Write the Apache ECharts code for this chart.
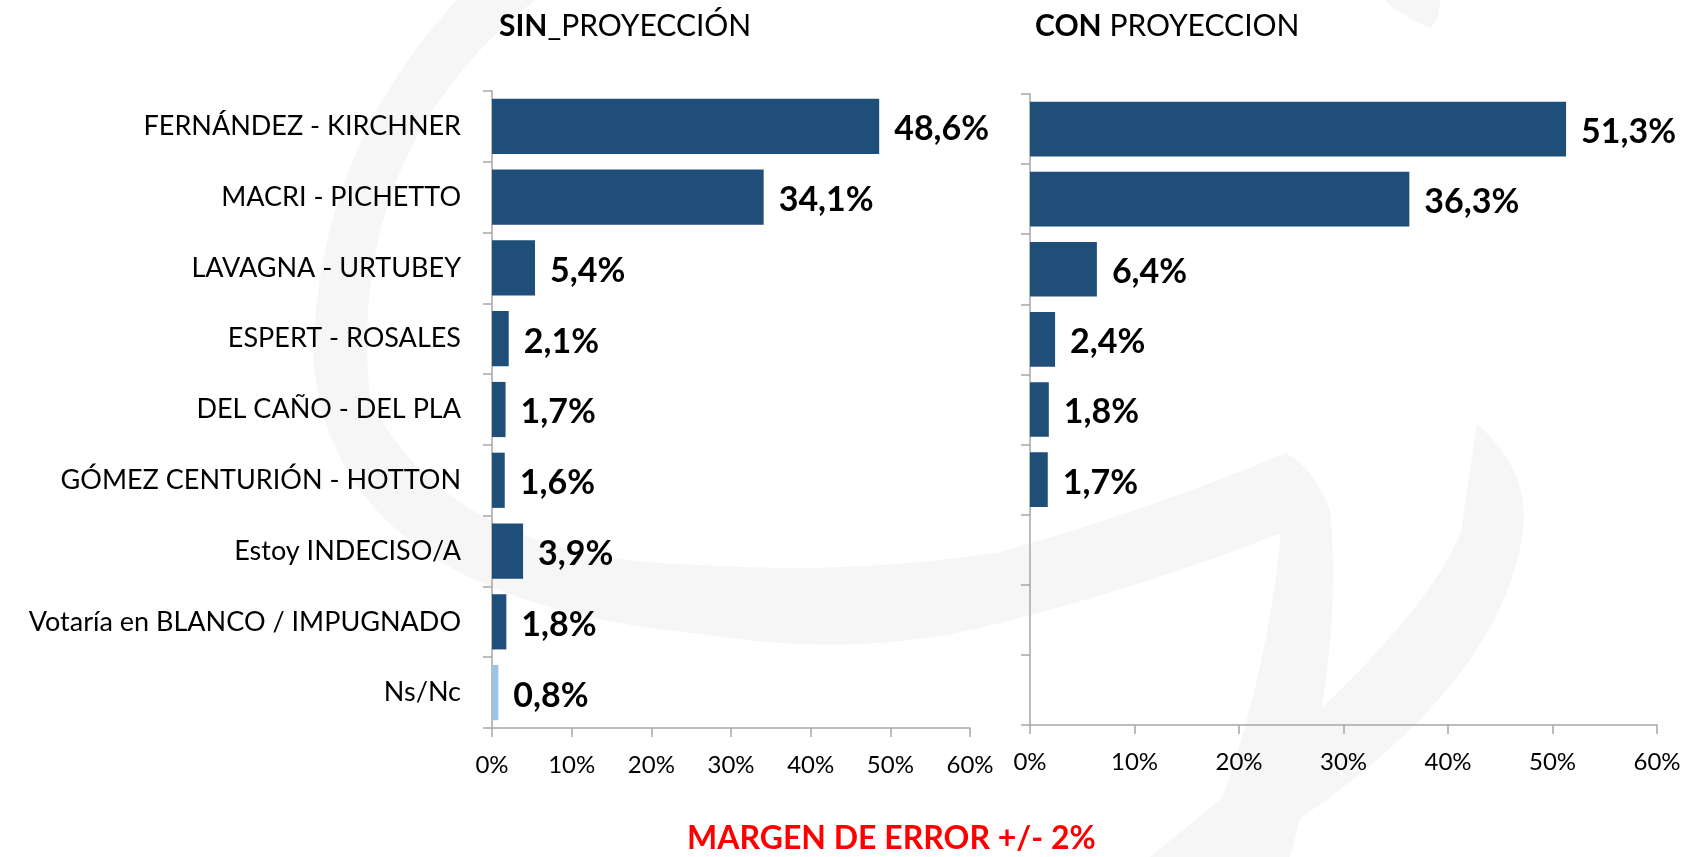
<!DOCTYPE html>
<html>
<head>
<meta charset="utf-8">
<script src="https://cdn.jsdelivr.net/npm/echarts@6/dist/echarts.min.js"></script>
<style>
  html, body { margin: 0; padding: 0; background: #fff; }
  #chart { width: 1689px; height: 857px; }
</style>
</head>
<body>
<div id="chart"></div>
<script>
const categories = [
  'FERNÁNDEZ - KIRCHNER',
  'MACRI - PICHETTO',
  'LAVAGNA - URTUBEY',
  'ESPERT - ROSALES',
  'DEL CAÑO - DEL PLA',
  'GÓMEZ CENTURIÓN - HOTTON',
  'Estoy INDECISO/A',
  'Votaría en BLANCO / IMPUGNADO',
  'Ns/Nc'
]
const sinProyeccion = [48.6, 34.1, 5.4, 2.1, 1.7, 1.6, 3.9, 1.8, 0.8]
const conProyeccion = [51.3, 36.3, 6.4, 2.4, 1.8, 1.7, null, null, null]
const xTicks = [0, 10, 20, 30, 40, 50, 60]

const FONT = 'Lato'
const barColor = '#1f4e79'
const lightColor = '#9dc3e6'
const axisColor = '#a6a6a6'
const markColor = '#f6f6f6'

const chart = echarts.init(document.getElementById('chart'))

const fmt = v => String(v).replace('.', ',') + '%'

const valueAxis = (gridIndex) => ({
  type: 'value',
  gridIndex,
  min: xTicks[0],
  max: xTicks[xTicks.length - 1],
  interval: 10,
  axisLine: { show: true, lineStyle: { color: axisColor, width: 1.5 } },
  axisTick: { show: true, length: 9, lineStyle: { color: axisColor, width: 1.5 } },
  splitLine: { show: false },
  axisLabel: {
    formatter: v => v + '%',
    color: '#000',
    fontFamily: FONT,
    fontSize: 24,
    margin: 25
  }
})

const catAxis = (gridIndex, showLabels) => ({
  type: 'category',
  gridIndex,
  data: categories,
  inverse: true,
  axisLine: { show: true, lineStyle: { color: axisColor, width: 1.5 } },
  axisTick: { show: true, length: 9, lineStyle: { color: axisColor, width: 1.5 } },
  axisLabel: {
    show: showLabels,
    color: '#000',
    fontFamily: FONT,
    fontSize: 27,
    margin: 31
  }
})

const labelStyle = {
  show: true,
  position: 'right',
  distance: 15,
  offset: [0, 3],
  formatter: p => fmt(p.value),
  color: '#000',
  fontFamily: FONT,
  fontWeight: 'bold',
  fontSize: 34
}

// faint logo swoosh behind the chart
const watermark = [
  'M457,0 Q318,150 313,355 Q330,600 702,634 Q860,660 1000,623 Q1150,585 1281,533 ' +
  'Q1265,700 1200,857 L1290,857 Q1345,650 1330,510 Q1315,470 1286,453 ' +
  'Q1150,510 1000,552 Q850,575 700,565 Q450,560 370,400 Q345,150 535,0 Z',
  'M1477,424 Q1530,470 1523,531 Q1500,700 1240,857 L1150,857 Q1420,640 1461,531 Q1470,470 1477,424 Z',
  'M1385,0 L1440,0 Q1440,20 1430,28 Q1400,15 1385,0 Z'
]
watermark.forEach((d, i) => {
  echarts.graphic.registerShape('swoosh' + i, echarts.graphic.extendPath(d, {}))
})

const option = {
  backgroundColor: '#fff',
  animation: false,
  graphic: watermark.map((d, i) => ({
    type: 'swoosh' + i,
    z: -10,
    silent: true,
    style: { fill: markColor }
  })),
  title: [
    {
      text: '{b|SIN}_PROYECCIÓN',
      left: 494,
      top: 6,
      textStyle: {
        fontFamily: FONT, fontSize: 30, fontWeight: 'normal', color: '#000',
        rich: { b: { fontFamily: FONT, fontSize: 30, fontWeight: 'bold', color: '#000' } }
      }
    },
    {
      text: '{b|CON} PROYECCION',
      left: 1030,
      top: 6,
      textStyle: {
        fontFamily: FONT, fontSize: 30, fontWeight: 'normal', color: '#000',
        rich: { b: { fontFamily: FONT, fontSize: 30, fontWeight: 'bold', color: '#000' } }
      }
    },
    {
      text: 'MARGEN DE ERROR +/- 2%',
      left: 682,
      top: 818,
      textStyle: { fontFamily: FONT, fontSize: 32, fontWeight: 'bold', color: '#ff0000' }
    }
  ],
  grid: [
    { left: 492, top: 91, width: 478, height: 637 },
    { left: 1030, top: 94, width: 627, height: 631 }
  ],
  xAxis: [valueAxis(0), valueAxis(1)],
  yAxis: [catAxis(0, true), catAxis(1, false)],
  series: [
    {
      type: 'bar',
      xAxisIndex: 0,
      yAxisIndex: 0,
      barCategoryGap: '22%',
      data: sinProyeccion.map((v, i) => ({
        value: v,
        itemStyle: { color: i === sinProyeccion.length - 1 ? lightColor : barColor }
      })),
      label: labelStyle
    },
    {
      type: 'bar',
      xAxisIndex: 1,
      yAxisIndex: 1,
      barCategoryGap: '22%',
      data: conProyeccion,
      itemStyle: { color: barColor },
      label: labelStyle
    }
  ]
}

chart.setOption(option)
</script>
</body>
</html>
